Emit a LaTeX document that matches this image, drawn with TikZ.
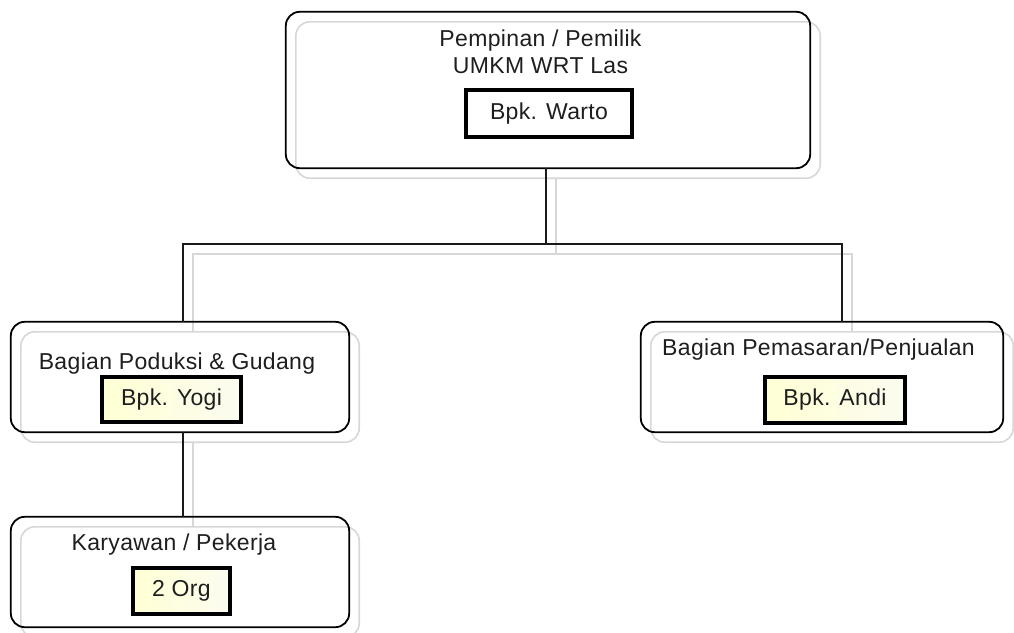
\documentclass[tikz,border=0pt]{standalone}
\usepackage{fontspec}
\setmainfont{Liberation Sans}[LetterSpace=1.5]
\usetikzlibrary{calc}
\definecolor{txtc}{RGB}{30,30,30}
\definecolor{shc}{RGB}{215,215,215}
\definecolor{ylw}{RGB}{255,255,212}
\definecolor{ylw2}{RGB}{252,252,240}
\begin{document}
\begin{tikzpicture}[x=1pt,y=-1pt,
  box/.style={draw=black, line width=1.8pt, rounded corners=14pt, inner sep=0pt},
  shadowbox/.style={draw=shc, line width=1.6pt, rounded corners=14pt},
  namebox/.style={draw=black, line width=3.6pt, inner sep=0pt, font=\fontsize{23}{27}\selectfont, text=txtc},
  yname/.style={namebox, left color=ylw, right color=ylw2},
  txt/.style={font=\fontsize{23}{27}\selectfont, text=txtc, inner sep=0pt},
  conn/.style={draw=black!90, line width=2.2pt},
  shconn/.style={draw=shc, line width=1.6pt}]
\useasboundingbox (0,0) rectangle (1014,632);
% main boxes (empty frames)
\node[minimum width=524pt, minimum height=156pt, inner sep=0pt] (top) at (548,90) {};
\node[minimum width=338pt, minimum height=110pt, inner sep=0pt] (lb) at (180,377) {};
\node[minimum width=362pt, minimum height=110pt, inner sep=0pt] (rb) at (822,377) {};
\node[minimum width=338pt, minimum height=110pt, inner sep=0pt] (bb) at (180,572) {};
% junction coordinates
\coordinate (j) at (546,244);
\coordinate (jl) at (183,244);
\coordinate (jr) at (842,244);
% shadows
\foreach \n in {top,lb,rb,bb}{
  \draw[shadowbox] ($(\n.north west)+(10,10)$) rectangle ($(\n.south east)+(10,10)$);
}
\draw[shconn] ($(top.south -| j)+(10,10)$) -- ($(j)+(10,10)$);
\draw[shconn] ($(jl |- lb.north)+(10,10)$) -- ($(jl)+(10,10)$) -- ($(jr)+(10,10)$) -- ($(jr |- rb.north)+(10,10)$);
\draw[shconn] ($(lb.south -| jl)+(10,10)$) -- ($(bb.north -| jl)+(10,10)$);
% frames
\foreach \n in {top,lb,rb,bb}{
  \draw[box] (\n.north west) rectangle (\n.south east);
}
% connectors
\draw[conn] (top.south -| j) -- (j);
\draw[conn] (jl |- lb.north) -- (jl) -- (jr) -- (jr |- rb.north);
\draw[conn] (lb.south -| jl) -- (bb.north -| jl);
% texts
\node[txt, anchor=base] (t1) at (540.5,46) {Pempinan / Pemilik};
\node[txt, anchor=base] (t2) at (540.5,73) {UMKM WRT Las};
\node[namebox, fill=white, minimum width=166pt, minimum height=47pt] (warto) at (549,113.5) {Bpk. Warto};
\node[txt, anchor=base] (t3) at (177,369) {Bagian Poduksi \& Gudang};
\node[yname, minimum width=139pt, minimum height=45.5pt] (yogi) at (171.5,399.5) {Bpk. Yogi};
\node[txt, anchor=base west] (t4) at (662,355) {Bagian Pemasaran/Penjualan};
\node[yname, minimum width=140pt, minimum height=46pt] (andi) at (835,400) {Bpk. Andi};
\node[txt, anchor=base] (t5) at (174,550) {Karyawan / Pekerja};
\node[yname, minimum width=97pt, minimum height=46pt] (org) at (181.5,591) {2 Org};
\end{tikzpicture}
\end{document}
